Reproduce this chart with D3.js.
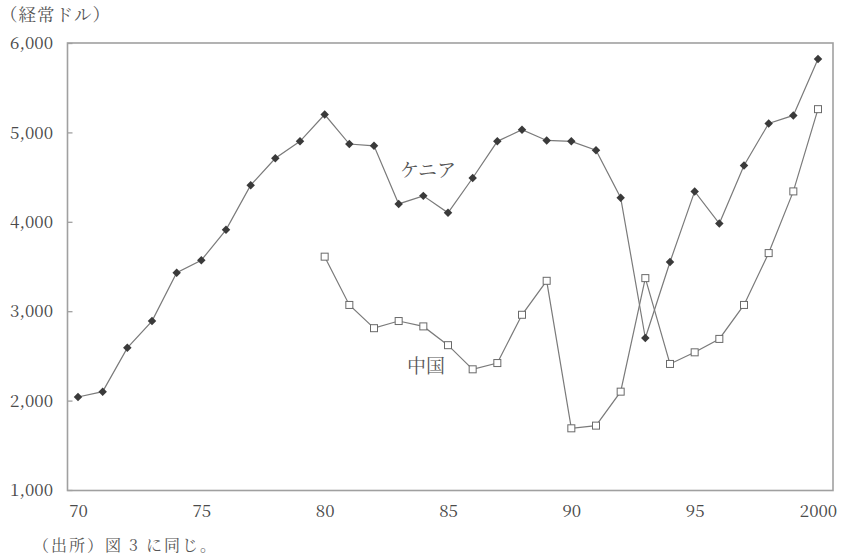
<!DOCTYPE html>
<html>
<head>
<meta charset="utf-8">
<script src="https://cdn.jsdelivr.net/npm/d3@7"></script>
<style>
  html, body { margin: 0; padding: 0; background: #fff; }
  svg { display: block; }
</style>
</head>
<body>
<svg id="chart" width="842" height="555"></svg>
<script>
const years = d3.range(1970, 2001);
const kenya = [2040, 2100, 2590, 2890, 3430, 3570, 3910, 4410, 4710, 4900,
               5200, 4870, 4850, 4200, 4290, 4100, 4490, 4900, 5030, 4910,
               4900, 4800, 4270, 2700, 3550, 4340, 3980, 4630, 5100, 5190, 5820];
const chinaYears = d3.range(1980, 2001);
const china = [3610, 3070, 2810, 2890, 2830, 2620, 2350, 2420, 2960, 3340,
               1690, 1720, 2100, 3370, 2410, 2540, 2690, 3070, 3650, 4340, 5260];
const yTicks = [1000, 2000, 3000, 4000, 5000, 6000];
const xTicks = [1970, 1975, 1980, 1985, 1990, 1995, 2000];
const xTickLabels = ["70", "75", "80", "85", "90", "95", "2000"];
const unitLabel = "（経常ドル）";
const sourceNote = "（出所）図 3 に同じ。";
const seriesLabels = ["ケニア", "中国"];

const svg = d3.select("#chart");
const x = d3.scaleLinear().domain([1970, 2000]).range([78, 818]);
const y = d3.scaleLinear().domain([1000, 6000]).range([490, 43]);
const frameLeft = 67.5, frameRight = 833, frameTop = 43, frameBottom = 490.5;

const numFont = "'Noto Serif CJK JP', 'Liberation Serif', serif";
const jpFont = "'Noto Serif CJK JP', 'Noto Sans CJK JP', serif";

// frame
svg.append("rect")
  .attr("x", frameLeft).attr("y", frameTop)
  .attr("width", frameRight - frameLeft).attr("height", frameBottom - frameTop)
  .attr("fill", "none").attr("stroke", "#a0a0a0").attr("stroke-width", 1.6);

// y axis ticks (inward) and labels
const yAxis = d3.axisRight(y).tickValues(yTicks).tickSize(5).tickFormat("");
const yg = svg.append("g").attr("transform", `translate(${frameLeft},0)`).call(yAxis);
yg.select(".domain").remove();
yg.selectAll(".tick line").attr("stroke", "#a0a0a0").attr("stroke-width", 1.3);

svg.append("g").selectAll("text").data(yTicks).join("text")
  .attr("x", 53).attr("y", d => y(d))
  .attr("dy", "0.36em")
  .attr("text-anchor", "end")
  .style("font-family", numFont).style("font-size", "17px")
  .attr("fill", "#4a4a4a")
  .text(d => d3.format(",")(d));

// x labels
const xAxis = d3.axisBottom(x).tickValues(xTicks).tickSize(0)
  .tickFormat((d, i) => xTickLabels[i]);
const xg = svg.append("g").attr("transform", `translate(0,${frameBottom})`).call(xAxis);
xg.select(".domain").remove();
xg.selectAll("text")
  .attr("y", 14).attr("dy", "0.71em")
  .style("font-family", numFont).style("font-size", "17px")
  .attr("fill", "#4a4a4a");

// lines
const line = d3.line().x(d => x(d[0])).y(d => y(d[1]));
const kData = years.map((yr, i) => [yr, kenya[i]]);
const cData = chinaYears.map((yr, i) => [yr, china[i]]);

svg.append("path").datum(kData).attr("d", line)
  .attr("fill", "none").attr("stroke", "#7a7a7a").attr("stroke-width", 1.2);
svg.append("path").datum(cData).attr("d", line)
  .attr("fill", "none").attr("stroke", "#7a7a7a").attr("stroke-width", 1.2);

// markers: rotated squares (diamonds)
const diamond = d3.symbol().type(d3.symbolSquare).size(36);
svg.append("g").selectAll("path").data(kData).join("path")
  .attr("transform", d => `translate(${x(d[0])},${y(d[1])}) rotate(45)`)
  .attr("d", diamond)
  .attr("fill", "#3a3a3a");

svg.append("g").selectAll("rect").data(cData).join("rect")
  .attr("x", d => x(d[0]) - 3.5).attr("y", d => y(d[1]) - 3.5)
  .attr("width", 7).attr("height", 7)
  .attr("fill", "#fff").attr("stroke", "#6a6a6a").attr("stroke-width", 1);

// series labels
svg.append("text").attr("x", 428).attr("y", 170).attr("dy", "0.36em")
  .attr("text-anchor", "middle")
  .style("font-family", jpFont).style("font-size", "19px")
  .attr("fill", "#555").text(seriesLabels[0]);
svg.append("text").attr("x", 426).attr("y", 366).attr("dy", "0.36em")
  .attr("text-anchor", "middle")
  .style("font-family", jpFont).style("font-size", "19px")
  .attr("fill", "#555").text(seriesLabels[1]);

// unit label
svg.append("text").attr("x", 0).attr("y", 15).attr("dy", "0.36em")
  .style("font-family", jpFont).style("font-size", "17.5px")
  .style("letter-spacing", "1px")
  .attr("fill", "#555").text(unitLabel);

// source note
svg.append("text").attr("x", 33).attr("y", 545).attr("dy", "0.36em")
  .style("font-family", jpFont).style("font-size", "16px")
  .style("letter-spacing", "2px")
  .attr("fill", "#555").text(sourceNote);
</script>
</body>
</html>
